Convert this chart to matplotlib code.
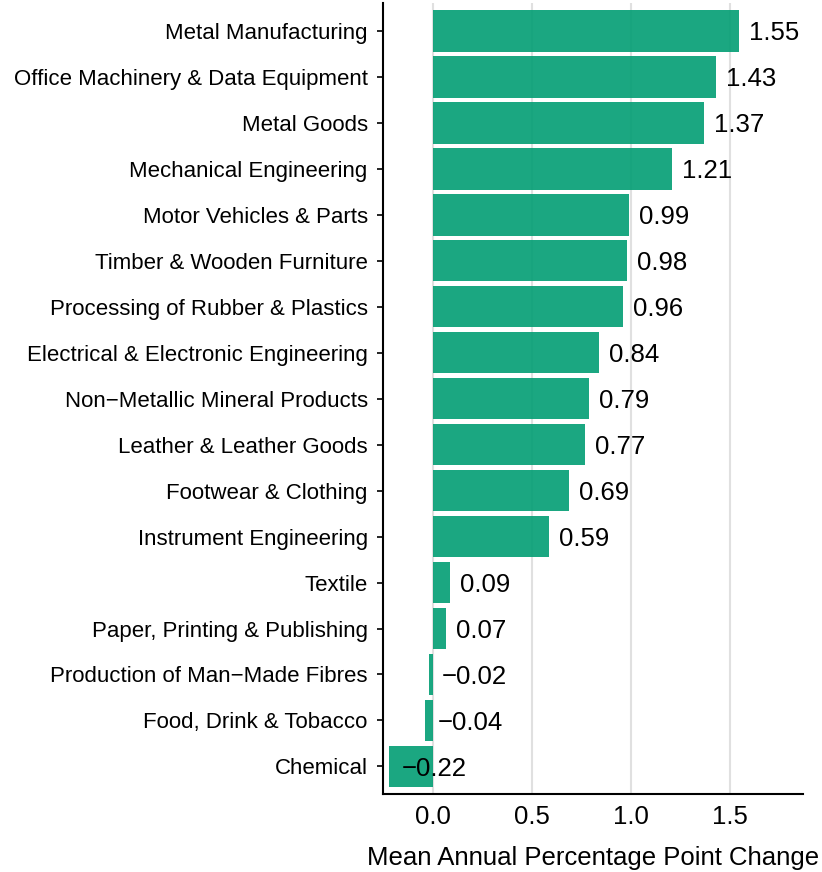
import matplotlib
matplotlib.use("Agg")
import matplotlib.pyplot as plt
from matplotlib.transforms import offset_copy

plt.rcParams['font.family'] = ['Liberation Sans', 'DejaVu Sans']

# Data (top to bottom as shown)
sectors = [
    "Metal Manufacturing",
    "Office Machinery & Data Equipment",
    "Metal Goods",
    "Mechanical Engineering",
    "Motor Vehicles & Parts",
    "Timber & Wooden Furniture",
    "Processing of Rubber & Plastics",
    "Electrical & Electronic Engineering",
    "Non\u2212Metallic Mineral Products",
    "Leather & Leather Goods",
    "Footwear & Clothing",
    "Instrument Engineering",
    "Textile",
    "Paper, Printing & Publishing",
    "Production of Man\u2212Made Fibres",
    "Food, Drink & Tobacco",
    "Chemical",
]
changes = [1.55, 1.43, 1.37, 1.21, 0.99, 0.98, 0.96, 0.84, 0.79, 0.77,
           0.69, 0.59, 0.09, 0.07, -0.02, -0.04, -0.22]
x_ticks = [0.0, 0.5, 1.0, 1.5]

fig = plt.figure(figsize=(8.22, 8.72), dpi=100)
ax = fig.add_axes([383 / 822, 1 - 794 / 872, 420 / 822, 790.6 / 872])

n = len(sectors)
ypos = list(range(n - 1, -1, -1))

ax.barh(ypos, changes, height=0.9, color='#029e73', alpha=0.9, zorder=2)

ax.set_xlim(-0.25, 1.871)
ax.set_ylim(-0.6, n - 0.4)
ax.set_yticks(ypos)
ax.set_yticklabels(sectors, fontsize=16)
ax.set_xticks(x_ticks)
ax.set_xticklabels([f"{t:.1f}" for t in x_ticks], fontsize=18.5)
ax.tick_params(axis='y', length=4, width=1.2, color='black', pad=7)
ax.tick_params(axis='x', length=0, pad=8)

ax.grid(axis='x', color='#e0e0e0', linewidth=1.5, zorder=0)
ax.set_axisbelow(True)
for s in ['top', 'right']:
    ax.spines[s].set_visible(False)
for s in ['left', 'bottom']:
    ax.spines[s].set_linewidth(1.5)

ax.set_xlabel("Mean Annual Percentage Point Change", fontsize=18.5, labelpad=12)

# value labels, nudged right by a fifth of their own width
renderer = fig.canvas.get_renderer()
for y, v in zip(ypos, changes):
    label = f"{v:.2f}".replace("-", "\u2212")
    t = ax.text(v, y, label, fontsize=18.5, ha='left', va='center_baseline', zorder=3)
    w = t.get_window_extent(renderer=renderer).width
    t.set_transform(offset_copy(ax.transData, fig=fig, x=0.2 * w, y=0, units='dots'))

fig.savefig("out.png", dpi=100)
